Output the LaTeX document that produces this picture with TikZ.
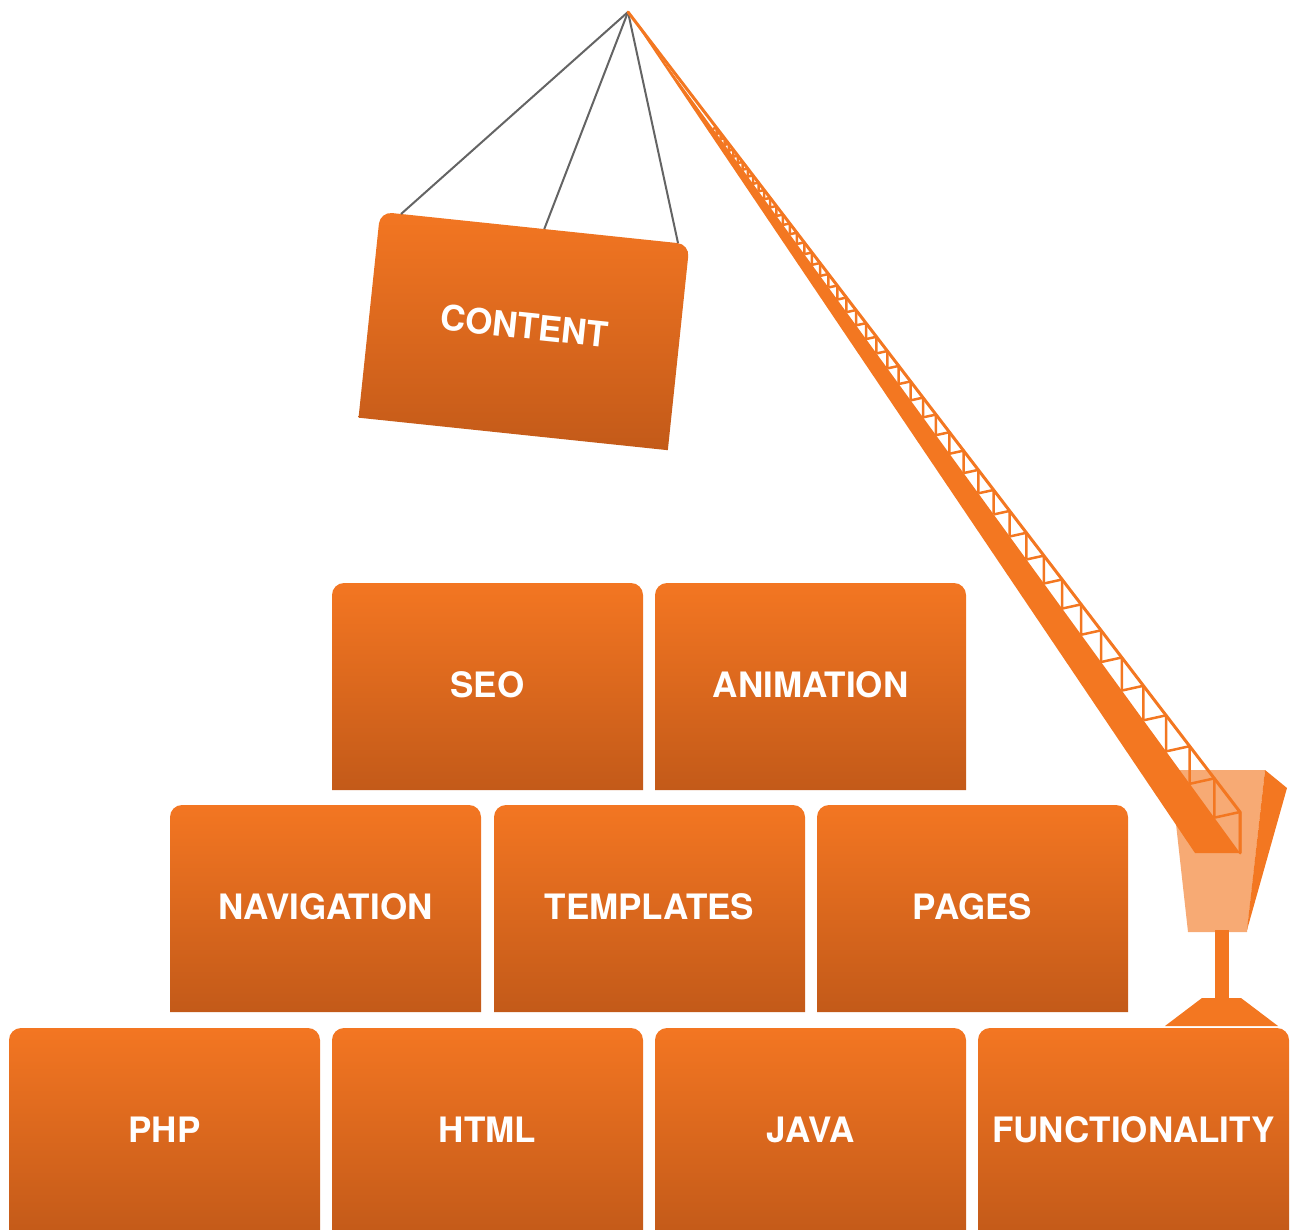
\documentclass[tikz,border=0pt]{standalone}
\usepackage{fontspec}
\setmainfont{TeX Gyre Heros}
\definecolor{brick}{RGB}{243,118,34}
\definecolor{brickdark}{RGB}{195,90,25}
\definecolor{boom}{RGB}{243,119,33}
\definecolor{bucket}{RGB}{247,170,116}
\definecolor{cable}{RGB}{100,100,100}
\begin{document}
\begin{tikzpicture}[
				x=0.5pt, y=-0.5pt,
				brickfill/.style={top color=brick, bottom color=brickdark},
				bricktext/.style={text=white, font=\fontsize{17.5}{21}\selectfont\bfseries},
				rope/.style={draw=cable, line width=1pt},
				lattice/.style={draw=boom, line width=1.25pt, line join=round}
				]
			\useasboundingbox (0,0) rectangle (1292,1230);
			\clip (0,0) rectangle (1292,1230);
			% wall of bricks
			\foreach \nm/\bx/\by/\txt in {seo/332/583/SEO, animation/655/583/ANIMATION,
					navigation/170/805/NAVIGATION, templates/494/805/TEMPLATES, pages/817/805/PAGES,
					php/9/1028/PHP, html/332/1028/HTML, java/655/1028/JAVA, functionality/978/1028/FUNCTIONALITY}{
				\shade[brickfill, rounded corners=6pt] (\bx,\by+207) -- (\bx,\by) -- (\bx+311,\by) [sharp corners] -- (\bx+311,\by+207) -- cycle;
				\node[bricktext] (\nm) at (\bx+155.5,\by+102) {\txt};
			}
			% hanging brick
			\begin{scope}[rotate around={-6:(524,331)}]
				\coordinate (hookl) at (389.5,227.5);
				\coordinate (hookm) at (533.5,227.5);
				\coordinate (hookr) at (668,227.5);
				\shade[brickfill, rounded corners=6pt] (368.5,434.5) -- (368.5,227.5) -- (679.5,227.5) [sharp corners] -- (679.5,434.5) -- cycle;
				\node[bricktext, transform shape] (content) at (524,326) {CONTENT};
			\end{scope}
			% crane
			\coordinate (tip) at (628,12);
			\coordinate (railend) at (1240,812);
			\coordinate (boomfoot) at (1240,853);
			\coordinate (boomheel) at (1195,853);
			\foreach \hk in {hookl, hookm, hookr}
				\draw[rope] (tip) -- (\hk);
			\fill[bucket] (1170,770) -- (1265,770) -- (1247,932) -- (1188,932) -- cycle;
			\fill[boom] (1265,770) -- (1287,788) -- (1247,930) -- cycle;
			\fill[boom] (1215,930) rectangle (1229,999);
			\fill[boom] (1202,998) -- (1241,998) -- (1278,1026) -- (1165,1026) -- cycle;
			\fill[boom] (tip) -- (boomheel) -- (boomfoot) -- cycle;
			\draw[lattice, line width=1.5pt, line cap=round] (tip) -- (railend) -- (boomfoot);
			\foreach \k in {0,...,45}{
				\pgfmathsetmacro\ta{0.958^(\k+1)}
				\pgfmathsetmacro\tb{0.958^\k}
				\draw[lattice] (628+612*\ta,12+841*\ta) -- (628+612*\tb,12+800*\tb) -- (628+612*\tb,12+841*\tb);
			}
			\end{tikzpicture}
\end{document}
